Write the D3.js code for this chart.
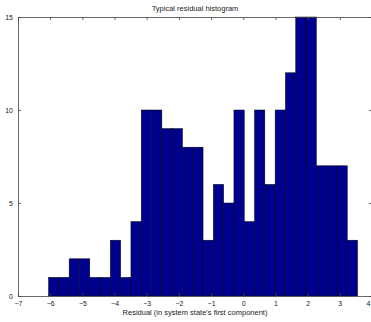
<!DOCTYPE html>
<html>
<head>
<meta charset="utf-8">
<script src="https://cdn.jsdelivr.net/npm/d3@7"></script>
<style>
  html, body { margin: 0; padding: 0; background: #fff; overflow: hidden; }
  text { font-family: "Liberation Sans", Arial, sans-serif; }
</style>
</head>
<body>
<figure id="hist" style="margin:0"></figure>
<script>
// Histogram data
const binEdges = [-6.05, -5.73, -5.41, -5.09, -4.77, -4.45, -4.13, -3.81, -3.49, -3.17,
                  -2.85, -2.53, -2.21, -1.89, -1.57, -1.25, -0.93, -0.61, -0.29, 0.03,
                  0.35, 0.67, 0.99, 1.31, 1.63, 1.95, 2.27, 2.59, 2.91, 3.23, 3.55];
const counts = [1, 1, 2, 2, 1, 1, 3, 1, 4, 10,
                10, 9, 9, 8, 8, 3, 6, 5, 10, 4,
                10, 6, 10, 12, 15, 15, 7, 7, 7, 3];
const xTicks = [-7, -6, -5, -4, -3, -2, -1, 0, 1, 2, 3, 4];
const yTicks = [0, 5, 10, 15];
const title = "Typical residual histogram";
const xLabel = "Residual (in system state's first component)";

const width = 371, height = 322;
// plot box (right edge sits right at the window edge, as in the original)
const margin = {top: 17, right: -1, bottom: 26, left: 18};

const svg = d3.select("figure#hist")
  .append("svg")
  .attr("width", width)
  .attr("height", height);

const x = d3.scaleLinear().domain([-7, 4]).range([margin.left, width - margin.right]);
const y = d3.scaleLinear().domain([0, 15]).range([height - margin.bottom, margin.top]);

const bins = counts.map((c, i) => ({x0: binEdges[i], x1: binEdges[i + 1], n: c}));

// bars
svg.append("g")
  .selectAll("rect")
  .data(bins)
  .enter()
  .append("rect")
    .attr("x", d => x(d.x0))
    .attr("y", d => y(d.n))
    .attr("width", d => x(d.x1) - x(d.x0))
    .attr("height", d => y(0) - y(d.n))
    .attr("fill", "#00008f")
    .attr("stroke", "#000")
    .attr("stroke-width", 0.5);

// axes, MATLAB-style box with inward ticks
const axisColor = "#444";
const styleAxis = g => {
  g.selectAll("path").attr("stroke", axisColor).attr("stroke-width", 0.8);
  g.selectAll("line").attr("stroke", axisColor).attr("stroke-width", 0.8);
  g.selectAll("text").attr("fill", "#222").style("font-size", "7px");
};

svg.append("g")
  .attr("transform", `translate(0,${y(0)})`)
  .call(d3.axisBottom(x).tickValues(xTicks).tickFormat(d3.format("d"))
    .tickSizeInner(-3).tickSizeOuter(0).tickPadding(5))
  .call(styleAxis);

// the last label ("4") sits at the window edge: keep it inside
svg.selectAll("g.tick text").filter(d => d === 4)
  .attr("text-anchor", "end").attr("dx", -(x(4) - (width - 1)));

svg.append("g")
  .attr("transform", `translate(0,${y(15)})`)
  .call(d3.axisTop(x).tickValues(xTicks).tickFormat("")
    .tickSizeInner(-3).tickSizeOuter(0))
  .call(styleAxis);

svg.append("g")
  .attr("transform", `translate(${x(-7)},0)`)
  .call(d3.axisLeft(y).tickValues(yTicks).tickFormat(d3.format("d"))
    .tickSizeInner(-3).tickSizeOuter(0).tickPadding(5))
  .call(styleAxis);

svg.append("g")
  .attr("transform", `translate(${x(4)},0)`)
  .call(d3.axisRight(y).tickValues(yTicks).tickFormat("")
    .tickSizeInner(-3).tickSizeOuter(0))
  .call(styleAxis);

// title and axis label
svg.append("text")
  .attr("x", (x(-7) + x(4)) / 2)
  .attr("y", 11)
  .attr("text-anchor", "middle")
  .attr("fill", "#222")
  .style("font-size", "7.5px")
  .text(title);

svg.append("text")
  .attr("x", (x(-7) + x(4)) / 2)
  .attr("y", 315)
  .attr("text-anchor", "middle")
  .attr("fill", "#222")
  .style("font-size", "7.5px")
  .text(xLabel);
</script>
</body>
</html>
